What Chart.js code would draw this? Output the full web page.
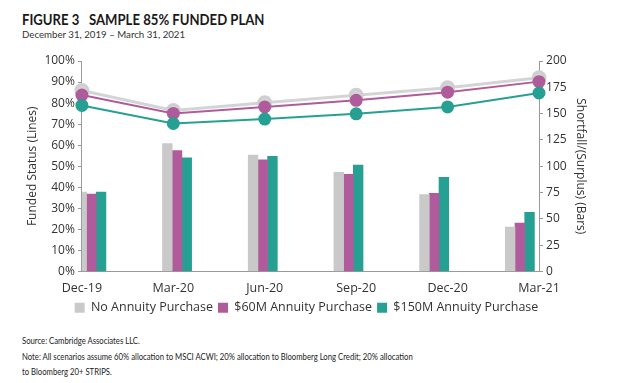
<!DOCTYPE html>
<html><head><meta charset="utf-8">
<script src="https://cdn.jsdelivr.net/npm/chart.js@4/dist/chart.umd.min.js"></script>
<style>
html,body{margin:0;padding:0;background:#fff;width:621px;height:383px;overflow:hidden;font-family:Lato,"Open Sans",sans-serif;color:#222}
#t{position:absolute;left:22px;top:10px;font:bold 15px Lato,sans-serif;color:#1a1a1a;white-space:pre;transform:scaleX(0.875);transform-origin:0 0}
#s{position:absolute;left:22px;top:28px;font:10.2px Lato,sans-serif;color:#333;transform:scaleX(0.95);transform-origin:0 0;white-space:nowrap}
#wrap{position:absolute;left:0;top:43px;width:621px;height:280px}
.n{position:absolute;left:22px;font:9.3px Lato,sans-serif;color:#222;white-space:nowrap;transform:scaleX(0.83);transform-origin:0 0}
</style></head><body>
<div id="t">FIGURE 3   SAMPLE 85% FUNDED PLAN</div>
<div id="s">December 31, 2019 – March 31, 2021</div>
<div id="wrap"><canvas id="c" width="621" height="280"></canvas></div>
<div class="n" style="top:335px">Source: Cambridge Associates LLC.</div>
<div class="n" style="top:351px">Note: All scenarios assume 60% allocation to MSCI ACWI; 20% allocation to Bloomberg Long Credit; 20% allocation</div>
<div class="n" style="top:366px">to Bloomberg 20+ STRIPS.</div>
<script>
const categories = ["Dec-19","Mar-20","Jun-20","Sep-20","Dec-20","Mar-21"];
const seriesNames = ["No Annuity Purchase","$60M Annuity Purchase","$150M Annuity Purchase"];
// Funded status (%), left axis, lines
const fundedNone = [86.0, 76.5, 80.2, 83.7, 87.3, 92.0];
const funded60   = [83.8, 75.1, 78.2, 81.3, 85.2, 90.2];
const funded150  = [78.9, 70.3, 72.4, 74.9, 78.2, 84.8];
// Shortfall/(Surplus), right axis, bars
const shortNone = [75.5, 121.6, 110.5, 94.3, 73.0, 42.2];
const short60   = [73.6, 115.0, 106.0, 92.4, 74.3, 46.0];
const short150  = [75.5, 108.0, 109.5, 101.0, 89.5, 56.2];
const leftTicks = [0,10,20,30,40,50,60,70,80,90,100];
const rightTicks = [0,25,50,75,100,125,150,175,200];

const colors = ["#c9c9c9","#b05b9b","#26a093"];
const lineColors = ["#d4d4d6","#b05b9b","#26a093"];
const fontFam = "'Open Sans', sans-serif";

const barSets = [shortNone, short60, short150].map((arr,i)=>({
  type:'bar', label:seriesNames[i], data:arr.map((v,j)=>({x:j,y:v})),
  backgroundColor:colors[i], xAxisID:'xb', yAxisID:'yr', order:5,
  barThickness:9.7
}));
const lineSets = [fundedNone, funded60, funded150].map((arr,i)=>({
  type:'line', label:'L'+i, data:arr, borderColor:lineColors[i], backgroundColor:lineColors[i],
  pointBackgroundColor:lineColors[i], pointBorderColor:i===0?'#cfcfd2':lineColors[i],
  pointRadius:i===0?6:5.5, borderWidth:i===0?3:2, xAxisID:'x', yAxisID:'yl', order:3-i
}));

const legendTrim = {
  id:'legendTrim',
  afterInit(chart){
    const lg = chart.legend;
    if(!lg) return;
    const f = lg.fit;
    lg.fit = function(){ f.call(this); this.height -= 4; };
  }
};

new Chart(document.getElementById('c'), {
  data:{labels:categories, datasets:[...lineSets, ...barSets]},
  plugins:[legendTrim],
  options:{
    responsive:false, animation:false,
    layout:{padding:{left:21,right:29,top:18,bottom:3}},
    plugins:{
      tooltip:{enabled:false},
      legend:{position:'bottom', labels:{filter:(it)=>!it.text.startsWith('L'), boxWidth:10, boxHeight:10, padding:5,
        font:{family:fontFam,size:12.5}, color:'#333'}}
    },
    scales:{
      x:{type:'category', offset:false, grid:{display:false}, border:{display:true,color:'#999'},
        ticks:{font:{family:fontFam,size:12.5}, color:'#333', maxRotation:0, padding:1}},
      xb:{type:'linear', display:false, min:-0.167, max:5.167, offset:false,
        afterBuildTicks:(s)=>{s.ticks=categories.map((c,i)=>({value:i}));}},
      yl:{position:'left', min:0, max:100, afterBuildTicks:(s)=>{s.ticks=leftTicks.map(v=>({value:v}));},
        grid:{drawOnChartArea:false, drawTicks:true, tickLength:4, color:'#999'}, border:{color:'#999'},
        ticks:{callback:(v)=>v+'%', font:{family:fontFam,size:12}, color:'#333', padding:3},
        title:{display:true, text:'Funded Status (Lines)', font:{family:fontFam,size:12}, color:'#333', padding:{bottom:2}}},
      yr:{position:'right', min:0, max:200, afterBuildTicks:(s)=>{s.ticks=rightTicks.map(v=>({value:v}));},
        grid:{drawOnChartArea:false, drawTicks:true, tickLength:4, color:'#999'}, border:{color:'#999'},
        ticks:{font:{family:fontFam,size:12}, color:'#333', padding:3},
        title:{display:true, text:'Shortfall/(Surplus) (Bars)', font:{family:fontFam,size:12}, color:'#333', padding:{top:4}}}
    }
  }
});
</script>
</body></html>
